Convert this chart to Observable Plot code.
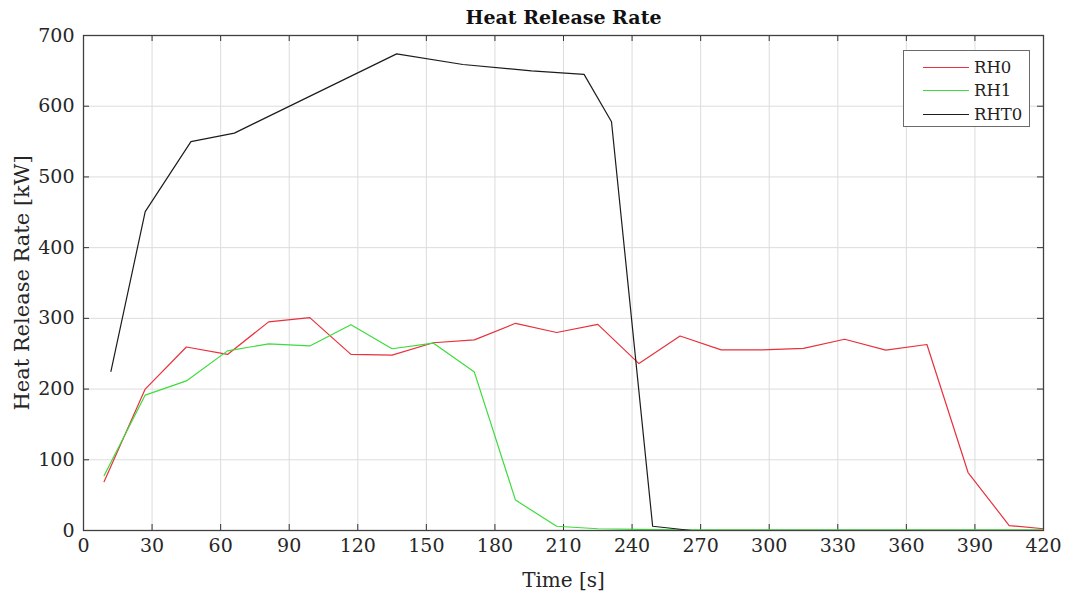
<!DOCTYPE html>
<html>
<head>
<meta charset="utf-8">
<script src="https://cdn.jsdelivr.net/npm/d3@7"></script>
<script src="https://cdn.jsdelivr.net/npm/@observablehq/plot@0.6"></script>
<style>
  html, body { margin: 0; padding: 0; background: #fff; }
  #wrap { position: relative; width: 1066px; height: 597px; }
  #legend {
    position: absolute; left: 903px; top: 50px; width: 127px; height: 77px;
    border: 1px solid #6a6a6a; background: #fff; box-sizing: border-box;
    font-family: "DejaVu Serif", serif; font-size: 16.5px; color: #222;
  }
  .item { position: absolute; left: 0; height: 20px; display: flex; align-items: center; }
  .item .sw { width: 46px; height: 0; border-top: 1.3px solid; margin-left: 19px; margin-right: 5px; }
</style>
</head>
<body>
<div id="wrap"><div id="legend"></div></div>
<script>
// ---- data ----
const seriesNames = ["RH0", "RH1", "RHT0"];
const seriesColors = ["#e8313c", "#3cdc3c", "#1c1c1c"];

const timeRH = [9, 27, 45, 63, 81, 99, 117, 135, 153, 171, 189, 207, 225, 243, 261, 279, 297, 315, 333, 351, 369, 387, 405, 420];
const rh0 = [69, 200, 259.5, 249, 295, 301, 249, 248, 265.5, 269.5, 293, 280, 291.5, 236, 275, 255.5, 255.5, 257.5, 270.5, 255, 263, 82, 7, 2.5];
const rh1 = [77.5, 191.5, 211.5, 254, 264, 261, 291, 257, 265, 224, 43, 6, 2.5, 1.5, 1, 1, 1, 1, 1, 1, 1, 1, 1, 1];

const timeRHT0 = [12, 27, 47, 66, 137, 166, 196, 219, 231, 249, 266, 400];
const rht0 = [225, 451, 550, 562, 674, 659, 650, 645, 578, 6, 0, 0];

const xTicks = [0, 30, 60, 90, 120, 150, 180, 210, 240, 270, 300, 330, 360, 390, 420];
const yTicks = [0, 100, 200, 300, 400, 500, 600, 700];

const titleText = "Heat Release Rate";
const xLabel = "Time [s]";
const yLabel = "Heat Release Rate [kW]";

// ---- build tidy table ----
const rows = [];
timeRH.forEach((t, i) => rows.push({series: "RH0", t, v: rh0[i]}));
timeRH.forEach((t, i) => rows.push({series: "RH1", t, v: rh1[i]}));
timeRHT0.forEach((t, i) => rows.push({series: "RHT0", t, v: rht0[i]}));

const W = 1066, H = 597;
const mL = 83, mR = 23, mT = 35, mB = 67;
const fw = W - mL - mR, fh = H - mT - mB;
const tick = 6;

const chart = Plot.plot({
  width: W, height: H,
  marginLeft: mL, marginRight: mR, marginTop: mT, marginBottom: mB,
  style: {fontFamily: "DejaVu Serif, serif", fontSize: "19px", color: "#262626", background: "#fff"},
  x: {domain: [0, 420], ticks: xTicks, label: null},
  y: {domain: [0, 700], ticks: yTicks, label: null},
  color: {domain: seriesNames, range: seriesColors},
  marks: [
    Plot.gridX(xTicks, {stroke: "#dcdcdc", strokeOpacity: 1}),
    Plot.gridY(yTicks, {stroke: "#dcdcdc", strokeOpacity: 1}),
    // inward ticks on all four sides
    Plot.tickX(xTicks, {x: d => d, insetTop: fh - tick, stroke: "#333"}),
    Plot.tickX(xTicks, {x: d => d, insetBottom: fh - tick, stroke: "#333"}),
    Plot.tickY(yTicks, {y: d => d, insetRight: fw - tick, stroke: "#333"}),
    Plot.tickY(yTicks, {y: d => d, insetLeft: fw - tick, stroke: "#333"}),
    Plot.axisX(xTicks, {tickSize: 0, tickPadding: 8, fontSize: 19}),
    Plot.axisY(yTicks, {tickSize: 0, tickPadding: 9, fontSize: 19}),
    Plot.line(rows, {x: "t", y: "v", z: "series", stroke: "series", strokeWidth: 1.2}),
    Plot.frame({stroke: "#404040", strokeWidth: 1.3}),
    Plot.text([titleText], {frameAnchor: "top", dy: -18, lineAnchor: "middle", text: d => d, fontWeight: "bold", fontSize: 19, fill: "#111"}),
    Plot.text([xLabel], {frameAnchor: "bottom", dy: 50, lineAnchor: "middle", text: d => d, fontSize: 20, fill: "#262626"}),
    Plot.text([yLabel], {frameAnchor: "left", dx: -61, rotate: -90, textAnchor: "middle", text: d => d, fontSize: 21, fill: "#262626"})
  ]
});

const wrap = document.getElementById("wrap");
wrap.insertBefore(chart, wrap.firstChild);

// legend
const legend = document.getElementById("legend");
seriesNames.forEach((name, i) => {
  const item = document.createElement("div");
  item.className = "item";
  item.style.top = (6 + i * 23.5) + "px";
  const sw = document.createElement("span");
  sw.className = "sw";
  sw.style.borderTopColor = seriesColors[i];
  const lab = document.createElement("span");
  lab.textContent = name;
  item.appendChild(sw);
  item.appendChild(lab);
  legend.appendChild(item);
});
</script>
</body>
</html>
